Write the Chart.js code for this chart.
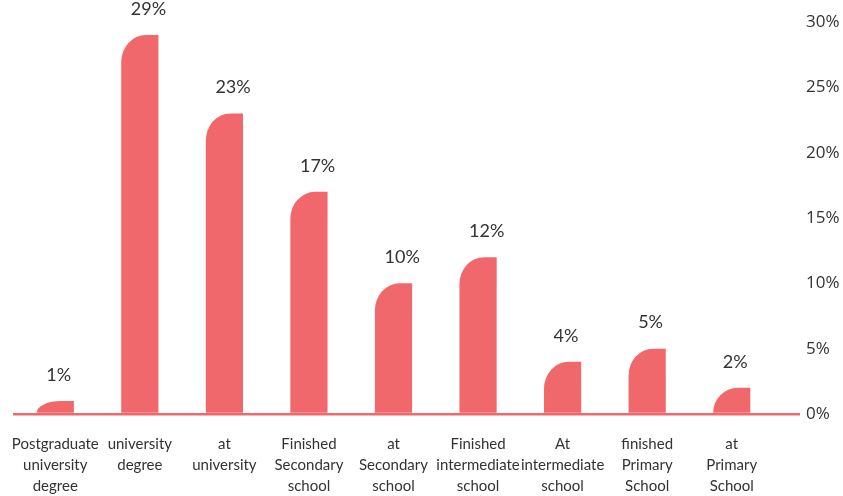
<!DOCTYPE html>
<html>
<head>
<meta charset="utf-8">
<script src="https://cdn.jsdelivr.net/npm/chart.js@4"></script>
<style>
  html, body { margin: 0; padding: 0; background: #fff; }
  #wrap { width: 843px; height: 496px; }
</style>
</head>
<body>
<div id="wrap"><canvas id="eduChart"></canvas></div>
<script>
const categories = [
    ["Postgraduate", "university", "degree"],
    ["university", "degree"],
    ["at", "university"],
    ["Finished", "Secondary", "school"],
    ["at", "Secondary", "school"],
    ["Finished", "intermediate", "school"],
    ["At", "intermediate", "school"],
    ["finished", "Primary", "School"],
    ["at", "Primary", "School"],
];
const shares = [1, 29, 23, 17, 10, 12, 4, 5, 2];
const tickValues = [0, 5, 10, 15, 20, 25, 30];

const barRed = "#F0686C";
const textColor = "#333333";
const labelFont = "Lato, 'Open Sans', sans-serif";

// bars with a big rounded top-left corner, drawn over the (invisible) default bars
const roundedBars = {
    id: "roundedBars",
    afterDatasetsDraw(chart) {
        const ctx = chart.ctx;
        const meta = chart.getDatasetMeta(0);
        ctx.save();
        ctx.fillStyle = barRed;
        meta.data.forEach((bar) => {
            const { x, y, base, width } = bar.getProps(["x", "y", "base", "width"], true);
            const left = x - width / 2;
            const right = x + width / 2;
            const h = base - y;
            const rx = Math.min(width * 0.66, 25);
            const ry = Math.min(h, 27);
            ctx.beginPath();
            ctx.moveTo(left, base);
            ctx.lineTo(left, y + ry);
            ctx.ellipse(left + rx, y + ry, rx, ry, 0, Math.PI, Math.PI * 1.5);
            ctx.lineTo(right, y);
            ctx.lineTo(right, base);
            ctx.closePath();
            ctx.fill();
        });

        // value labels above each bar
        ctx.fillStyle = textColor;
        ctx.font = "18px " + labelFont;
        ctx.textAlign = "left";
        ctx.textBaseline = "middle";
        meta.data.forEach((bar, i) => {
            ctx.fillText(shares[i] + "%", bar.x - 9, bar.y - 26);
        });
        ctx.restore();
    },
};

new Chart(document.getElementById("eduChart"), {
    type: "bar",
    data: {
        labels: categories,
        datasets: [
            {
                data: shares,
                backgroundColor: "rgba(0,0,0,0)",
                borderWidth: 0,
                barPercentage: 0.44,
                categoryPercentage: 1,
            },
        ],
    },
    options: {
        responsive: true,
        maintainAspectRatio: false,
        animation: false,
        layout: { padding: { top: 22, left: 13, right: 0, bottom: 0 } },
        plugins: {
            legend: { display: false },
            tooltip: { enabled: false },
        },
        scales: {
            x: {
                grid: { display: false },
                border: { display: false },
                afterFit: (axis) => {
                    axis.height = 82;
                },
                ticks: {
                    color: textColor,
                    padding: 11,
                    maxRotation: 0,
                    autoSkip: false,
                    font: { family: labelFont, size: 15, lineHeight: 1.43 },
                },
            },
            y: {
                position: "right",
                min: 0,
                max: 30,
                afterBuildTicks: (axis) => {
                    axis.ticks = tickValues.map((v) => ({ value: v }));
                },
                afterFit: (axis) => {
                    axis.width = 69;
                },
                border: { display: false },
                grid: {
                    color: (c) => (c.tick && c.tick.value === 0 ? barRed : "rgba(0,0,0,0)"),
                    lineWidth: 2.5,
                    drawTicks: true,
                    tickLength: 26,
                },
                ticks: {
                    color: textColor,
                    padding: 6,
                    font: { family: "'Open Sans', sans-serif", size: 17 },
                    callback: (v) => v + "%",
                },
            },
        },
    },
    plugins: [roundedBars],
});
</script>
</body>
</html>
